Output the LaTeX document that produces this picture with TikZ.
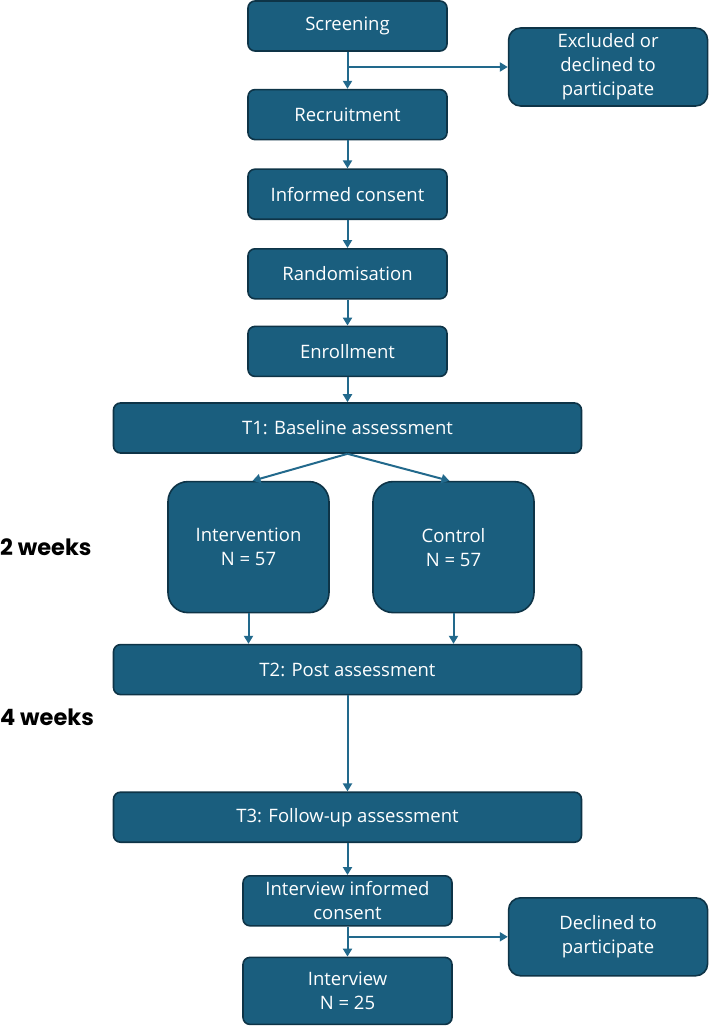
\documentclass[tikz,border=0pt]{standalone}
\usepackage{fontspec}
\setmainfont{Open Sans}
\newfontfamily\weekfont{Poppins}
\usetikzlibrary{arrows.meta, positioning}
\definecolor{boxfill}{HTML}{1A5E7E}
\definecolor{boxline}{HTML}{0E3447}
\definecolor{arrline}{HTML}{22698C}
\tikzset{
  box/.style={draw=boxline, line width=1.6pt, rounded corners=7pt, fill=boxfill, text=white, minimum height=50pt, minimum width=199pt, align=center, inner sep=2pt, font=\fontsize{18.5}{24}\selectfont},
  wide/.style={box, minimum width=468pt},
  side/.style={box, minimum height=78pt, rounded corners=12pt},
  arm/.style={box, minimum width=161pt, minimum height=131pt, rounded corners=20pt},
  arr/.style={-{Triangle[length=8pt, width=9pt]}, line width=2pt, draw=arrline},
  period/.style={font=\weekfont\bfseries\fontsize{22.5}{26}\selectfont, inner sep=0pt, anchor=west},
}

\begin{document}
\begin{tikzpicture}
    \useasboundingbox (0,0) rectangle (709pt,-1027pt);
    \node[box] (scr) at (347.5pt,-26pt) {Screening};
    \node[side, right=60pt of scr, yshift=-41pt] (exc) {Excluded or\\declined to\\participate};
    \node[box, below=37pt of scr] (rec) {Recruitment};
    \node[box, below=28pt of rec] (cons) {Informed consent};
    \node[box, below=28pt of cons] (rand) {Randomisation};
    \node[box, below=26pt of rand] (enr) {Enrollment};
    \node[wide, below=25pt of enr] (t1) {T1: Baseline assessment};
    \node[arm, below=27pt of t1, xshift=-99pt] (int) {Intervention\\N = 57};
    \node[arm, below=27pt of t1, xshift=106pt] (ctl) {Control\\N = 57};
    \node[wide, below=190pt of t1] (t2) {T2: Post assessment};
    \node[wide, below=96pt of t2] (t3) {T3: Follow-up assessment};
    \node[box, minimum width=209pt, below=32pt of t3] (icons) {Interview informed\\consent};
    \node[side, right=55pt of icons, yshift=-36pt] (decl) {Declined to\\participate};
    \node[box, minimum width=209pt, minimum height=67pt, below=30pt of icons] (intv) {Interview\\N = 25};
    \node[period] (w2) at (0pt,-547pt) {2 weeks};
    \node[period] (w4) at (0pt,-717pt) {4 weeks};

    \draw[arr] (scr) -- (rec);
    \draw[arr] (scr.south |- exc.west) -- (exc.west);
    \draw[arr] (rec) -- (cons);
    \draw[arr] (cons) -- (rand);
    \draw[arr] (rand) -- (enr);
    \draw[arr] (enr) -- (t1);
    \draw[arr] (t1.south) -- ([xshift=4pt]int.north);
    \draw[arr] (t1.south) -- ([xshift=-4pt]ctl.north);
    \draw[arr] (int.south) -- (int.south |- t2.north);
    \draw[arr] (ctl.south) -- (ctl.south |- t2.north);
    \draw[arr] (t2) -- (t3);
    \draw[arr] (t3.south) -- (t3.south |- icons.north);
    \draw[arr] (icons) -- (intv);
    \draw[arr] (icons.south |- decl.west) -- (decl.west);
  \end{tikzpicture}
\end{document}
